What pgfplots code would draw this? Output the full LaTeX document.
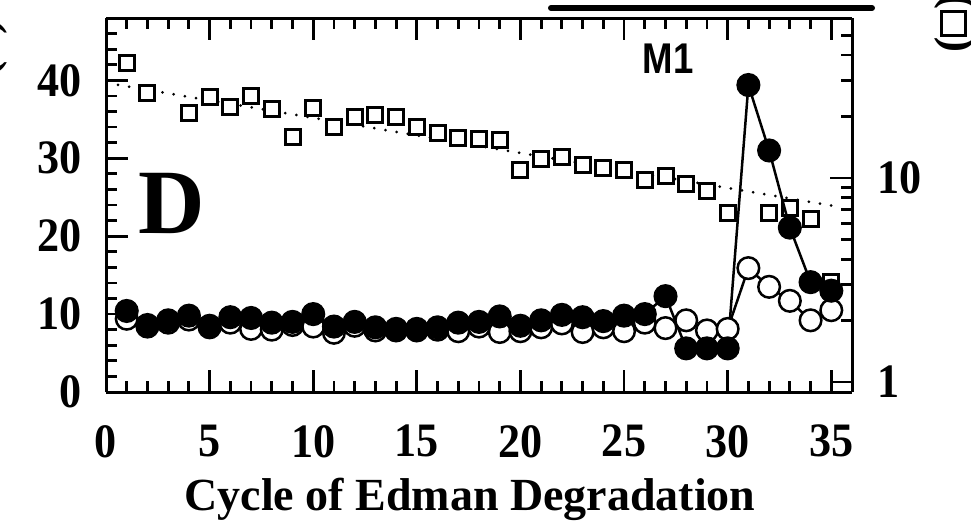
\documentclass[border=0pt]{standalone}
\usepackage{pgfplots}
\pgfplotsset{compat=1.18}
\usepackage{fontspec}
\setmainfont{Liberation Serif}
\newfontfamily\msans[FakeStretch=0.85]{Liberation Sans}
\newfontfamily\tserif[FakeStretch=0.92]{Liberation Serif}
\newcommand\tickfont{\tserif\fontsize{48}{48}\selectfont\bfseries}

\pgfplotstableread{
x y
1 36.6
2 26.1
4 20.8
5 24.9
6 22.3
7 25.2
8 21.8
9 15.9
10 22.0
11 17.8
12 19.9
13 20.4
14 19.9
15 17.8
16 16.6
17 15.7
18 15.5
19 15.4
20 10.9
21 12.4
22 12.7
23 11.6
24 11.2
25 10.9
26 9.8
27 10.2
28 9.3
29 8.6
30 6.7
32 6.7
33 7.1
34 6.3
35 3.1
}\squares

\pgfplotstableread{
x y
0.58 28.6
35.4 7.21
}\fitline

\pgfplotstableread{
x y
1 9.4
2 8.4
3 8.9
4 9.3
5 8.3
6 8.9
7 8.1
8 8.0
9 8.6
10 8.4
11 7.6
12 8.5
13 7.9
14 7.9
15 7.9
16 8.0
17 7.8
18 8.4
19 7.7
20 7.8
21 8.3
22 8.8
23 7.7
24 8.3
25 7.8
26 8.9
27 8.2
28 9.2
29 7.9
30 8.1
31 15.9
32 13.5
33 11.7
34 9.2
35 10.5
}\opencirc

\pgfplotstableread{
x y
1 10.4
2 8.6
3 9.2
4 9.8
5 8.5
6 9.6
7 9.5
8 8.9
9 9.0
10 10.0
11 8.4
12 9.0
13 8.3
14 8.1
15 8.1
16 8.3
17 8.9
18 9.0
19 9.7
20 8.5
21 9.2
22 9.9
23 9.6
24 9.1
25 9.8
26 10.0
27 12.3
28 5.6
29 5.6
30 5.6
31 39.4
32 31.0
33 21.1
34 14.1
35 13.0
}\filledcirc

\begin{document}
\begin{tikzpicture}
\useasboundingbox (-106pt,-136pt) rectangle (865pt,392pt);
\pgfplotsset{
  common/.style={
    at={(0,0)}, anchor=south west, scale only axis,
    width=746pt, height=374pt, xmin=0, xmax=36, clip=false,
    tick align=inside, major tick length=22pt, minor tick length=11pt,
    every tick/.style={black, line width=2.8pt},
    axis line style={-, line width=3pt},
    every outer x axis line/.append style={-},
    every outer y axis line/.append style={-},
    /pgf/number format/assume math mode=true,
    ticklabel style={font=\tickfont, inner sep=0pt},
  }
}
% right log axis with squares
\begin{axis}[common,
  ymode=log, ymin=0.893, ymax=60.8,
  axis x line=none, axis y line*=right,
  ytick={1,10}, yticklabels={1,10},
  minor ytick={2,3,4,5,6,7,8,9,20,30,40,50},
  yticklabel style={anchor=west, xshift=25pt},
]
\addplot[black, line width=3pt, line cap=round, dash pattern=on 0pt off 11.3pt] table[x=x,y=y] {\fitline};
\addplot[only marks, mark=square*, mark size=7.5pt, mark options={draw=black, fill=white, line width=3pt}] table[x=x,y=y] {\squares};
\end{axis}
% left linear axis with circles
\begin{axis}[common,
  ymin=0, ymax=48,
  axis x line=box, axis y line*=left,
  xtick={0,5,...,35}, minor xtick={1,...,34},
  ytick={0,10,...,40}, minor ytick={2,4,...,46},
  xticklabel style={anchor=north, yshift=-33pt},
  yticklabel style={anchor=east, xshift=-24pt},
]
\addplot[black, line width=2.5pt, mark=*, mark size=10.8pt, mark options={draw=black, fill=white, line width=2.5pt}] table[x=x,y=y] {\opencirc};
\addplot[black, line width=2.5pt, mark=*, mark size=10.8pt, mark options={draw=black, fill=black, line width=2.5pt}] table[x=x,y=y] {\filledcirc};
\end{axis}
\node[inner sep=0pt, anchor=center, font=\fontsize{92}{92}\selectfont\bfseries] at (66pt,189pt) {D};
\node[inner sep=0pt, anchor=center, font=\msans\fontsize{43}{43}\selectfont\bfseries] at (562pt,333pt) {M1};
\node[inner sep=0pt, anchor=base, font=\fontsize{46}{46}\selectfont\bfseries] at (364pt,-118pt) {Cycle of Edman Degradation};
\draw[line width=6pt, line cap=round] (445pt,384pt) -- (766pt,384pt);
\setlength\fboxrule{3pt}\setlength\fboxsep{0pt}
\node[inner sep=0pt, anchor=base, rotate=90, font=\fontsize{46}{46}\selectfont\bfseries] at (860pt,368.5pt) {(\raisebox{2pt}{\fbox{\rule{0pt}{21pt}\hspace{21pt}}})};
\node[inner sep=0pt, anchor=base, rotate=90, font=\fontsize{46}{46}\selectfont\bfseries] at (-108pt,344pt) {(\hspace{27pt})};
\end{tikzpicture}
\end{document}
